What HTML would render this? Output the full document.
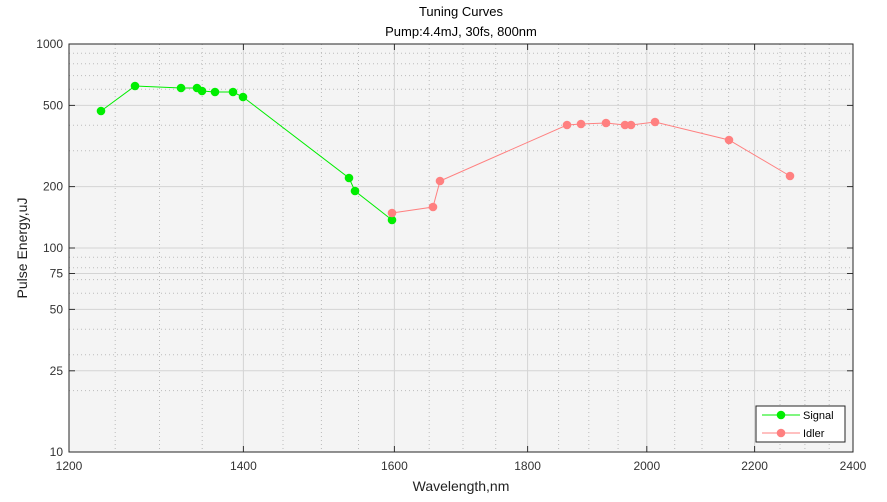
<!DOCTYPE html><html><head><style>body{margin:0;background:#fff}svg{font-family:"Liberation Sans",sans-serif}</style></head><body>
<svg width="887" height="497" viewBox="0 0 887 497">
<rect x="69" y="44" width="784" height="408" fill="#f4f4f4"/>
<g stroke="#bbb" stroke-dasharray="1,3">
<line x1="115.2" y1="44" x2="115.2" y2="452"/><line x1="159.5" y1="44" x2="159.5" y2="452"/><line x1="202.2" y1="44" x2="202.2" y2="452"/>
<line x1="283" y1="44" x2="283" y2="452"/><line x1="321.4" y1="44" x2="321.4" y2="452"/><line x1="358.5" y1="44" x2="358.5" y2="452"/>
<line x1="429.2" y1="44" x2="429.2" y2="452"/><line x1="463" y1="44" x2="463" y2="452"/><line x1="495.7" y1="44" x2="495.7" y2="452"/>
<line x1="558.6" y1="44" x2="558.6" y2="452"/><line x1="588.8" y1="44" x2="588.8" y2="452"/><line x1="618.1" y1="44" x2="618.1" y2="452"/>
<line x1="674.7" y1="44" x2="674.7" y2="452"/><line x1="702" y1="44" x2="702" y2="452"/><line x1="728.6" y1="44" x2="728.6" y2="452"/>
<line x1="780" y1="44" x2="780" y2="452"/><line x1="804.9" y1="44" x2="804.9" y2="452"/><line x1="829.2" y1="44" x2="829.2" y2="452"/>
<line x1="69" y1="390.6" x2="853" y2="390.6"/><line x1="69" y1="354.7" x2="853" y2="354.7"/><line x1="69" y1="329.2" x2="853" y2="329.2"/>
<line x1="69" y1="293.3" x2="853" y2="293.3"/><line x1="69" y1="279.6" x2="853" y2="279.6"/><line x1="69" y1="267.8" x2="853" y2="267.8"/><line x1="69" y1="257.3" x2="853" y2="257.3"/>
<line x1="69" y1="150.7" x2="853" y2="150.7"/><line x1="69" y1="125.2" x2="853" y2="125.2"/><line x1="69" y1="89.3" x2="853" y2="89.3"/>
<line x1="69" y1="75.6" x2="853" y2="75.6"/><line x1="69" y1="63.8" x2="853" y2="63.8"/><line x1="69" y1="53.3" x2="853" y2="53.3"/>
</g>
<g stroke="#d4d4d4">
<line x1="243.4" y1="44" x2="243.4" y2="452"/><line x1="394.4" y1="44" x2="394.4" y2="452"/><line x1="527.6" y1="44" x2="527.6" y2="452"/><line x1="646.8" y1="44" x2="646.8" y2="452"/><line x1="754.6" y1="44" x2="754.6" y2="452"/>
<line x1="69" y1="370.8" x2="853" y2="370.8"/><line x1="69" y1="309.4" x2="853" y2="309.4"/><line x1="69" y1="273.5" x2="853" y2="273.5"/><line x1="69" y1="248" x2="853" y2="248"/><line x1="69" y1="186.6" x2="853" y2="186.6"/><line x1="69" y1="105.4" x2="853" y2="105.4"/>
</g>
<g stroke="#333">
<line x1="243.4" y1="452" x2="243.4" y2="446"/><line x1="394.4" y1="452" x2="394.4" y2="446"/><line x1="527.6" y1="452" x2="527.6" y2="446"/><line x1="646.8" y1="452" x2="646.8" y2="446"/><line x1="754.6" y1="452" x2="754.6" y2="446"/>
<line x1="243.4" y1="44" x2="243.4" y2="50"/><line x1="394.4" y1="44" x2="394.4" y2="50"/><line x1="527.6" y1="44" x2="527.6" y2="50"/><line x1="646.8" y1="44" x2="646.8" y2="50"/><line x1="754.6" y1="44" x2="754.6" y2="50"/>
<line x1="69" y1="370.8" x2="75" y2="370.8"/><line x1="69" y1="309.4" x2="75" y2="309.4"/><line x1="69" y1="273.5" x2="75" y2="273.5"/><line x1="69" y1="248" x2="75" y2="248"/><line x1="69" y1="186.6" x2="75" y2="186.6"/><line x1="69" y1="105.4" x2="75" y2="105.4"/>
<line x1="853" y1="370.8" x2="847" y2="370.8"/><line x1="853" y1="309.4" x2="847" y2="309.4"/><line x1="853" y1="273.5" x2="847" y2="273.5"/><line x1="853" y1="248" x2="847" y2="248"/><line x1="853" y1="186.6" x2="847" y2="186.6"/><line x1="853" y1="105.4" x2="847" y2="105.4"/>
</g>
<g font-size="12" fill="#333" text-anchor="end">
<text x="63" y="48">1000</text><text x="63" y="109.4">500</text><text x="63" y="190.6">200</text><text x="63" y="252">100</text><text x="63" y="277.5">75</text><text x="63" y="313.4">50</text><text x="63" y="374.8">25</text><text x="63" y="456">10</text>
</g>
<g font-size="12" fill="#333" text-anchor="middle">
<text x="69" y="470">1200</text><text x="243.4" y="470">1400</text><text x="394.4" y="470">1600</text><text x="527.6" y="470">1800</text><text x="646.8" y="470">2000</text><text x="754.6" y="470">2200</text><text x="853" y="470">2400</text>
</g>
<polyline fill="none" stroke="#00ee00" points="101,111 135,86 181,88 197,88 202,91 215,92 233,92 243,97 349,178 355,191 392,220"/>
<g fill="#00ee00">
<circle cx="101" cy="111" r="4.3"/><circle cx="135" cy="86" r="4.3"/><circle cx="181" cy="88" r="4.3"/><circle cx="197" cy="88" r="4.3"/><circle cx="202" cy="91" r="4.3"/><circle cx="215" cy="92" r="4.3"/><circle cx="233" cy="92" r="4.3"/><circle cx="243" cy="97" r="4.3"/><circle cx="349" cy="178" r="4.3"/><circle cx="355" cy="191" r="4.3"/><circle cx="392" cy="220" r="4.3"/>
</g>
<polyline fill="none" stroke="#ff8080" points="392,213 433,207 440,181 567,125 581,124 606,123 625,125 631,125 655,122 729,140 790,176"/>
<g fill="#ff8080">
<circle cx="392" cy="213" r="4.3"/><circle cx="433" cy="207" r="4.3"/><circle cx="440" cy="181" r="4.3"/><circle cx="567" cy="125" r="4.3"/><circle cx="581" cy="124" r="4.3"/><circle cx="606" cy="123" r="4.3"/><circle cx="625" cy="125" r="4.3"/><circle cx="631" cy="125" r="4.3"/><circle cx="655" cy="122" r="4.3"/><circle cx="729" cy="140" r="4.3"/><circle cx="790" cy="176" r="4.3"/>
</g>
<rect x="69" y="44" width="784" height="408" fill="none" stroke="#262626"/>
<rect x="756" y="406" width="89" height="36" fill="#fff" stroke="#262626"/>
<line x1="762" y1="415" x2="800" y2="415" stroke="#00ee00"/><circle cx="781" cy="415" r="4.3" fill="#00ee00"/>
<text x="803" y="419" font-size="11" fill="#000">Signal</text>
<line x1="762" y1="433" x2="800" y2="433" stroke="#ff8080"/><circle cx="781" cy="433" r="4.3" fill="#ff8080"/>
<text x="803" y="437" font-size="11" fill="#000">Idler</text>
<text x="461" y="16" font-size="13" fill="#000" text-anchor="middle">Tuning Curves</text>
<text x="461" y="36" font-size="13" fill="#000" text-anchor="middle">Pump:4.4mJ, 30fs, 800nm</text>
<text x="461" y="491" font-size="14" fill="#222" text-anchor="middle">Wavelength,nm</text>
<text transform="translate(27,248) rotate(-90)" font-size="14" fill="#222" text-anchor="middle">Pulse Energy,uJ</text>
</svg></body></html>
